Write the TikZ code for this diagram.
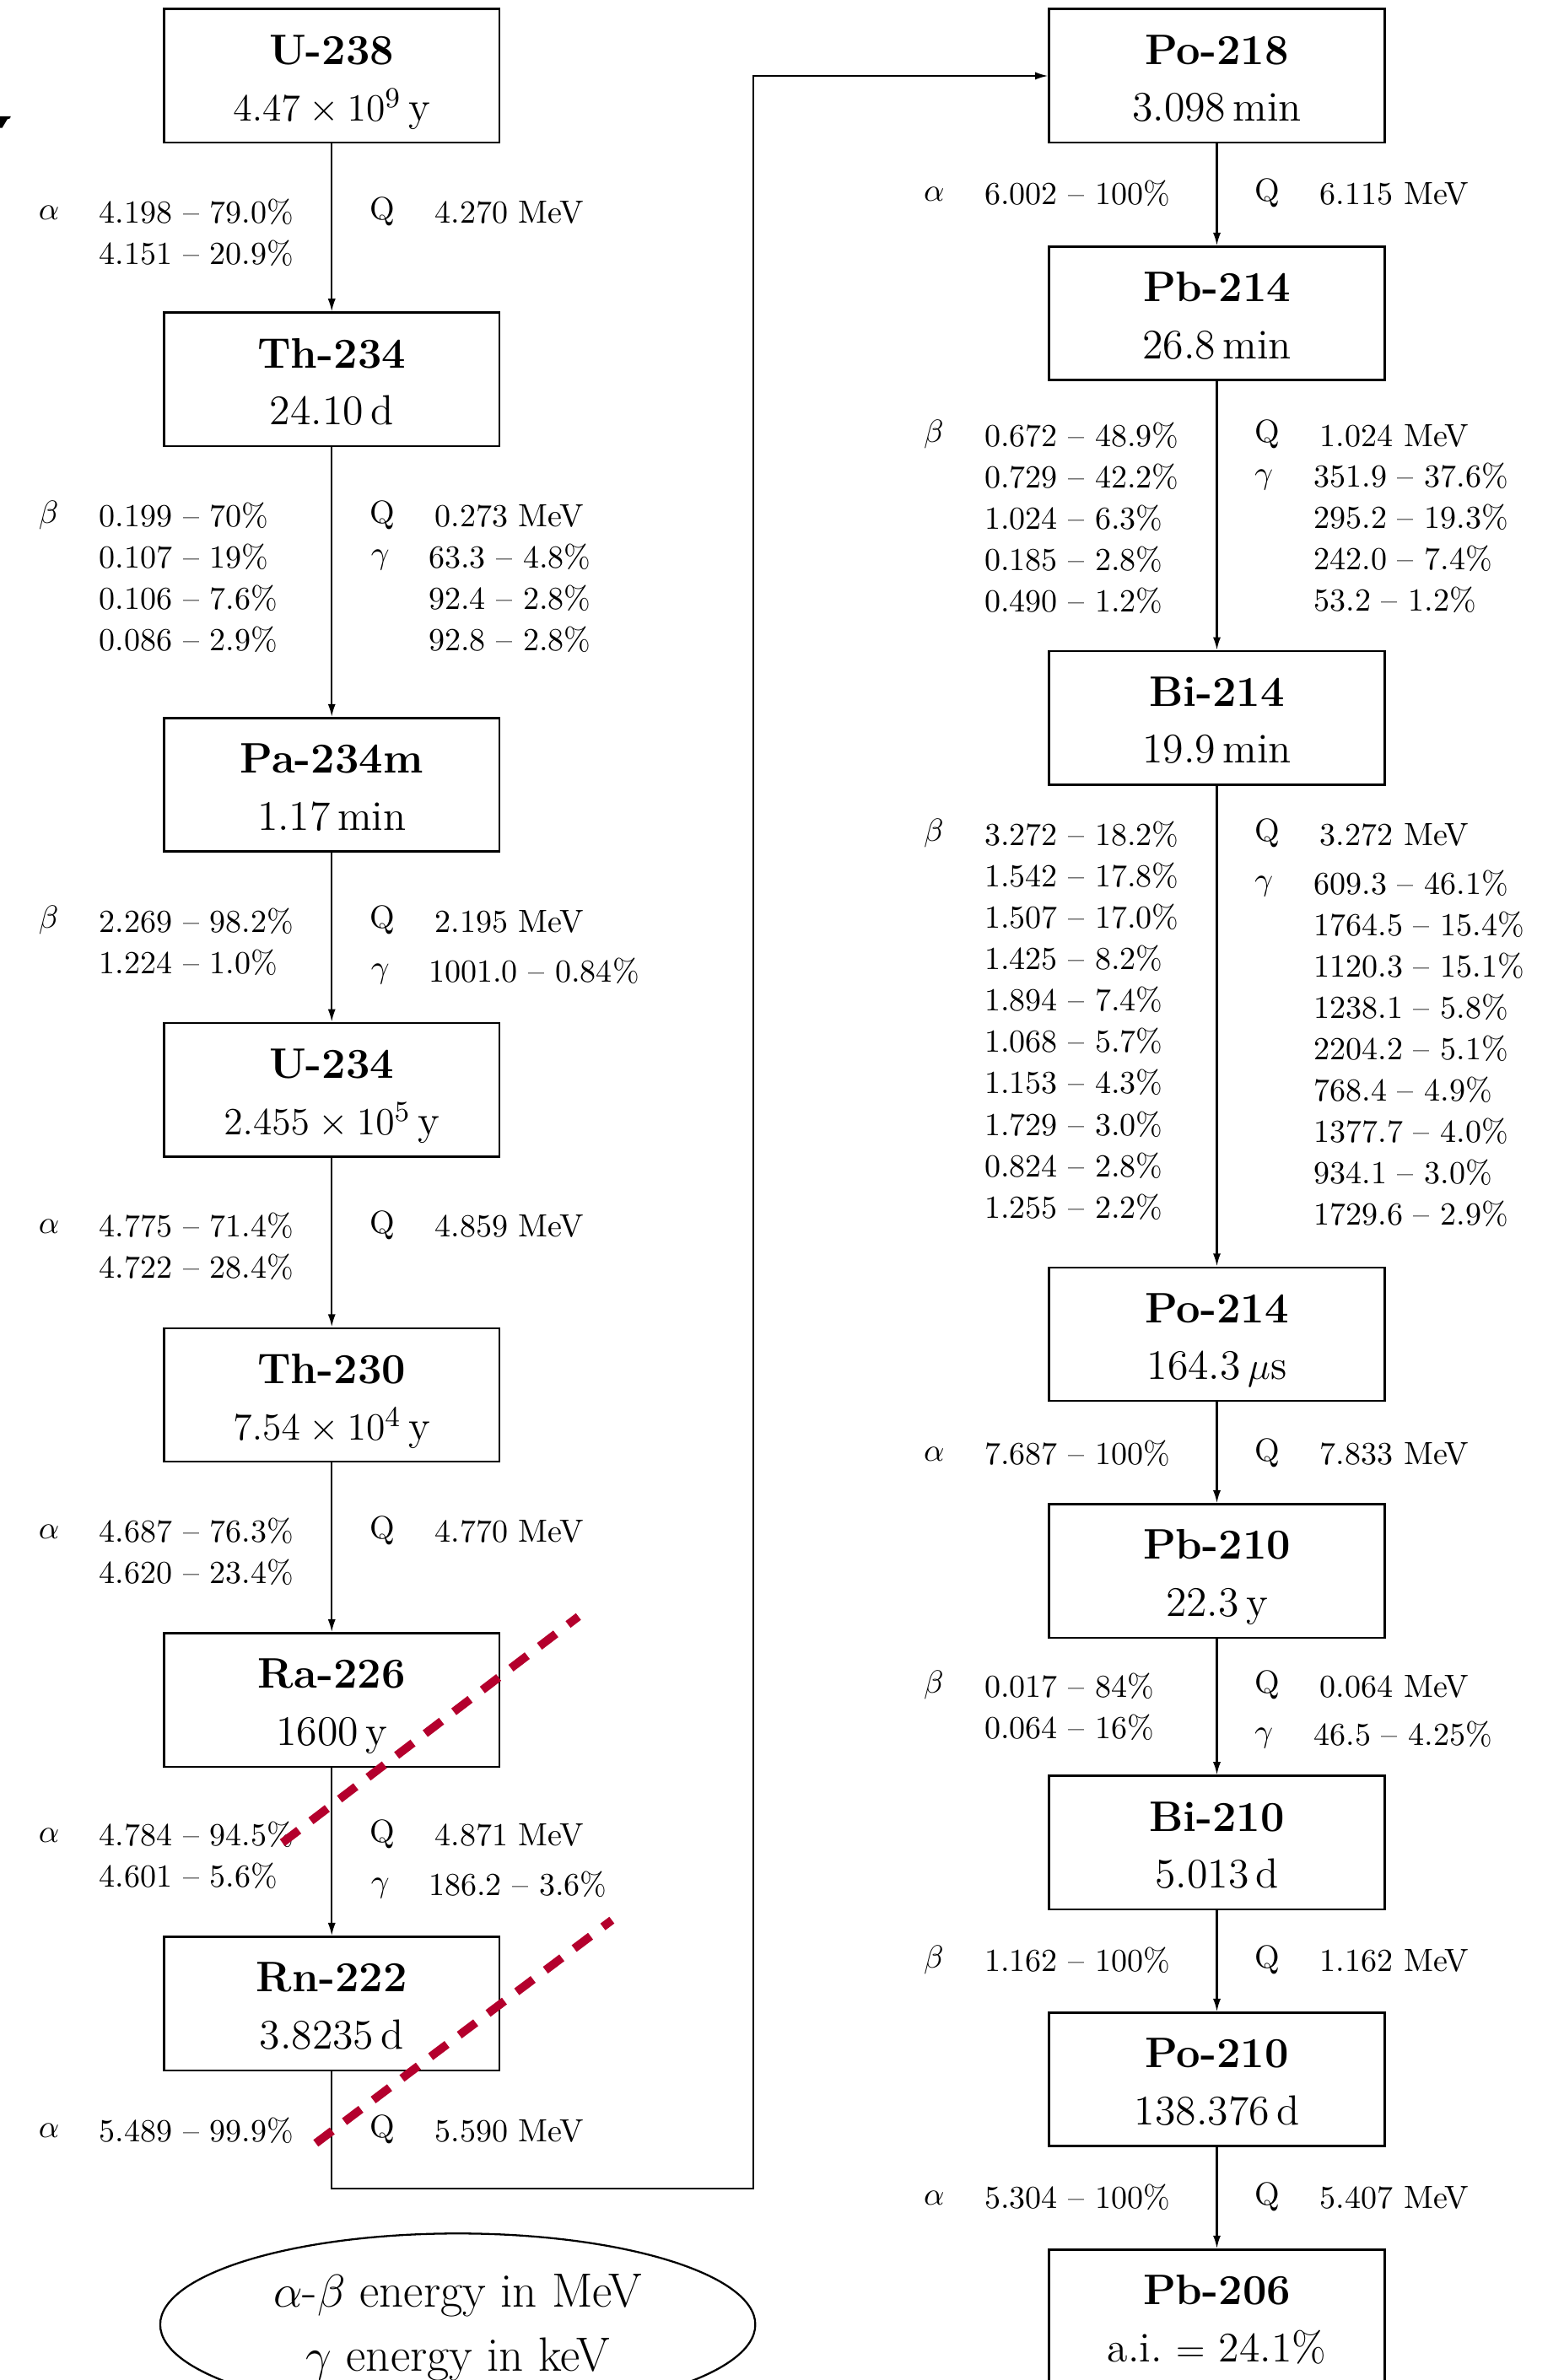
\documentclass[tikz,border=0pt]{standalone}
\usetikzlibrary{arrows.meta,shapes.geometric}
\definecolor{cutred}{RGB}{180,0,45}

% one column of rows, baseline on the first row
\newcommand\stackrows[1]{\begin{tabular}[t]{@{}l@{}}#1\end{tabular}}

% nuclide box: name, x, y (centre), title, half-life
\newcommand\nuclide[5]{%
  \node[nucbox] (#1) at (#2,#3) {};
  \node[nuctitle] (#1-t) at (#2,{#3-7.7}) {#4};
  \node[nuchalf] (#1-h) at (#2,{#3+29.8}) {#5};}

% decay data block: name, x symbol, x values, baseline, symbol, rows
\newcommand\branch[6]{%
  \node[decsym] (#1-s) at (#2,{#4-2.5}) {#5};
  \node[decvals] (#1-v) at (#3,#4) {\stackrows{#6}};}

\tikzset{
  nucbox/.style={draw, line width=0.7pt, minimum width=104.5pt,
    minimum height=41.6pt, inner sep=0pt},
  nuctitle/.style={anchor=base, inner sep=0pt,
    font=\fontsize{13.3}{16}\selectfont\bfseries},
  nuchalf/.style={anchor=base, inner sep=0pt,
    font=\fontsize{13.1}{16}\selectfont},
  decsym/.style={anchor=base west, inner sep=0pt,
    font=\fontsize{10}{12.9}\selectfont},
  decvals/.style={anchor=base west, inner sep=0pt,
    font=\fontsize{10}{12.9}\selectfont},
  decay/.style={line width=0.55pt, -{Latex[length=4pt,width=2.4pt]}},
  cut/.style={cutred, line width=2.6pt, dash pattern=on 6.4pt off 4.8pt},
  unitnote/.style={draw, ellipse, line width=0.6pt,
    minimum width=185.4pt, minimum height=56.8pt, inner sep=0pt},
  unittext/.style={align=center, inner sep=0pt,
    font=\fontsize{15}{19.9}\selectfont},
}

\begin{document}
\begin{tikzpicture}[x=0.473pt, y=-0.473pt]
\useasboundingbox (0,0) rectangle (1030,1568);

% stray glyph piece at the left edge
\fill (0,76.6) -- (7.1,76.6) -- (6.6,78) -- (4.8,78.6) -- (1.4,84.3) -- (0,84.3) -- cycle;

% ---- uranium branch (left column) ----
\nuclide{U238}{218.5}{50}{U-238}{$4.47\times10^{9}$\,y}
\nuclide{Th234}{218.5}{250}{Th-234}{24.10\,d}
\nuclide{Pa234m}{218.5}{517}{Pa-234m}{1.17\,min}
\nuclide{U234}{218.5}{718}{U-234}{$2.455\times10^{5}$\,y}
\nuclide{Th230}{218.5}{919}{Th-230}{$7.54\times10^{4}$\,y}
\nuclide{Ra226}{218.5}{1120}{Ra-226}{1600\,y}
\nuclide{Rn222}{218.5}{1320}{Rn-222}{3.8235\,d}

% ---- radon progeny (right column) ----
\nuclide{Po218}{801.5}{50}{Po-218}{3.098\,min}
\nuclide{Pb214}{801.5}{206.5}{Pb-214}{26.8\,min}
\nuclide{Bi214}{801.5}{473}{Bi-214}{19.9\,min}
\nuclide{Po214}{801.5}{879}{Po-214}{164.3\,$\mu$s}
\nuclide{Pb210}{801.5}{1035}{Pb-210}{22.3\,y}
\nuclide{Bi210}{801.5}{1214}{Bi-210}{5.013\,d}
\nuclide{Po210}{801.5}{1370}{Po-210}{138.376\,d}
\nuclide{Pb206}{801.5}{1526}{Pb-206}{a.i.\ $=$ 24.1\%}

% ---- decay arrows ----
\draw[decay] (U238.south) -- (Th234.north);
\draw[decay] (Th234.south) -- (Pa234m.north);
\draw[decay] (Pa234m.south) -- (U234.north);
\draw[decay] (U234.south) -- (Th230.north);
\draw[decay] (Th230.south) -- (Ra226.north);
\draw[decay] (Ra226.south) -- (Rn222.north);
\draw[decay] (Po218.south) -- (Pb214.north);
\draw[decay] (Pb214.south) -- (Bi214.north);
\draw[decay] (Bi214.south) -- (Po214.north);
\draw[decay] (Po214.south) -- (Pb210.north);
\draw[decay] (Pb210.south) -- (Bi210.north);
\draw[decay] (Bi210.south) -- (Po210.north);
\draw[decay] (Po210.south) -- (Pb206.north);

% Rn-222 feeds Po-218 at the top of the second column
\coordinate (hopA) at (218.5,1442);
\coordinate (hopB) at (496,1442);
\coordinate (hopC) at (496,50);
\draw[decay] (Rn222.south) -- (hopA) -- (hopB) -- (hopC) -- (Po218.west);

% ---- decay data, left column ----
\branch{L1a}{25}{65}{147}{$\alpha$}{4.198 -- 79.0\%\\4.151 -- 20.9\%}
\branch{L1q}{243}{286}{147}{Q}{4.270 MeV}

\branch{L2b}{25}{65}{347}{$\beta$}{0.199 -- 70\%\\0.107 -- 19\%\\0.106 -- 7.6\%\\0.086 -- 2.9\%}
\branch{L2q}{243}{286}{347}{Q}{0.273 MeV}
\branch{L2g}{244}{282}{374}{$\gamma$}{63.3 -- 4.8\%\\92.4 -- 2.8\%\\92.8 -- 2.8\%}

\branch{L3b}{25}{65}{614}{$\beta$}{2.269 -- 98.2\%\\1.224 -- 1.0\%}
\branch{L3q}{243}{286}{614}{Q}{2.195 MeV}
\branch{L3g}{244}{282}{647}{$\gamma$}{1001.0 -- 0.84\%}

\branch{L4a}{25}{65}{815}{$\alpha$}{4.775 -- 71.4\%\\4.722 -- 28.4\%}
\branch{L4q}{243}{286}{815}{Q}{4.859 MeV}

\branch{L5a}{25}{65}{1016}{$\alpha$}{4.687 -- 76.3\%\\4.620 -- 23.4\%}
\branch{L5q}{243}{286}{1016}{Q}{4.770 MeV}

\branch{L6a}{25}{65}{1216}{$\alpha$}{4.784 -- 94.5\%\\4.601 -- 5.6\%}
\branch{L6q}{243}{286}{1216}{Q}{4.871 MeV}
\branch{L6g}{244}{282}{1249}{$\gamma$}{186.2 -- 3.6\%}

\branch{L7a}{25}{65}{1411}{$\alpha$}{5.489 -- 99.9\%}
\branch{L7q}{243}{286}{1411}{Q}{5.590 MeV}

% ---- decay data, right column ----
\branch{R1a}{608}{648}{135}{$\alpha$}{6.002 -- 100\%}
\branch{R1q}{826}{869}{135}{Q}{6.115 MeV}

\branch{R2b}{608}{648}{294}{$\beta$}{0.672 -- 48.9\%\\0.729 -- 42.2\%\\1.024 -- 6.3\%\\0.185 -- 2.8\%\\0.490 -- 1.2\%}
\branch{R2q}{826}{869}{294}{Q}{1.024 MeV}
\branch{R2g}{826}{865}{321}{$\gamma$}{351.9 -- 37.6\%\\295.2 -- 19.3\%\\242.0 -- 7.4\%\\53.2 -- 1.2\%}

\branch{R3b}{608}{648}{557}{$\beta$}{3.272 -- 18.2\%\\1.542 -- 17.8\%\\1.507 -- 17.0\%\\1.425 -- 8.2\%\\1.894 -- 7.4\%\\1.068 -- 5.7\%\\1.153 -- 4.3\%\\1.729 -- 3.0\%\\0.824 -- 2.8\%\\1.255 -- 2.2\%}
\branch{R3q}{826}{869}{557}{Q}{3.272 MeV}
\branch{R3g}{826}{865}{589}{$\gamma$}{609.3 -- 46.1\%\\1764.5 -- 15.4\%\\1120.3 -- 15.1\%\\1238.1 -- 5.8\%\\2204.2 -- 5.1\%\\768.4 -- 4.9\%\\1377.7 -- 4.0\%\\934.1 -- 3.0\%\\1729.6 -- 2.9\%}

\branch{R4a}{608}{648}{965}{$\alpha$}{7.687 -- 100\%}
\branch{R4q}{826}{869}{965}{Q}{7.833 MeV}

\branch{R5b}{608}{648}{1118}{$\beta$}{0.017 -- 84\%\\0.064 -- 16\%}
\branch{R5q}{826}{869}{1118}{Q}{0.064 MeV}
\branch{R5g}{826}{865}{1150}{$\gamma$}{46.5 -- 4.25\%}

\branch{R6b}{608}{648}{1299}{$\beta$}{1.162 -- 100\%}
\branch{R6q}{826}{869}{1299}{Q}{1.162 MeV}

\branch{R7a}{608}{648}{1455}{$\alpha$}{5.304 -- 100\%}
\branch{R7q}{826}{869}{1455}{Q}{5.407 MeV}

% ---- red dashed cut marks ----
\coordinate (cutAs) at (186,1214);
\coordinate (cutAe) at (381,1065);
\coordinate (cutBs) at (208,1412);
\coordinate (cutBe) at (403,1265);
\draw[cut] (cutAs) -- (cutAe);
\draw[cut] (cutBs) -- (cutBe);

% ---- units legend ----
\node[unitnote] (units) at (301.5,1531.5) {};
\node[unittext] (units-t) at (301.5,1533.5)
  {$\alpha$-$\beta$ energy in MeV\\$\gamma$ energy in keV};
\end{tikzpicture}
\end{document}
